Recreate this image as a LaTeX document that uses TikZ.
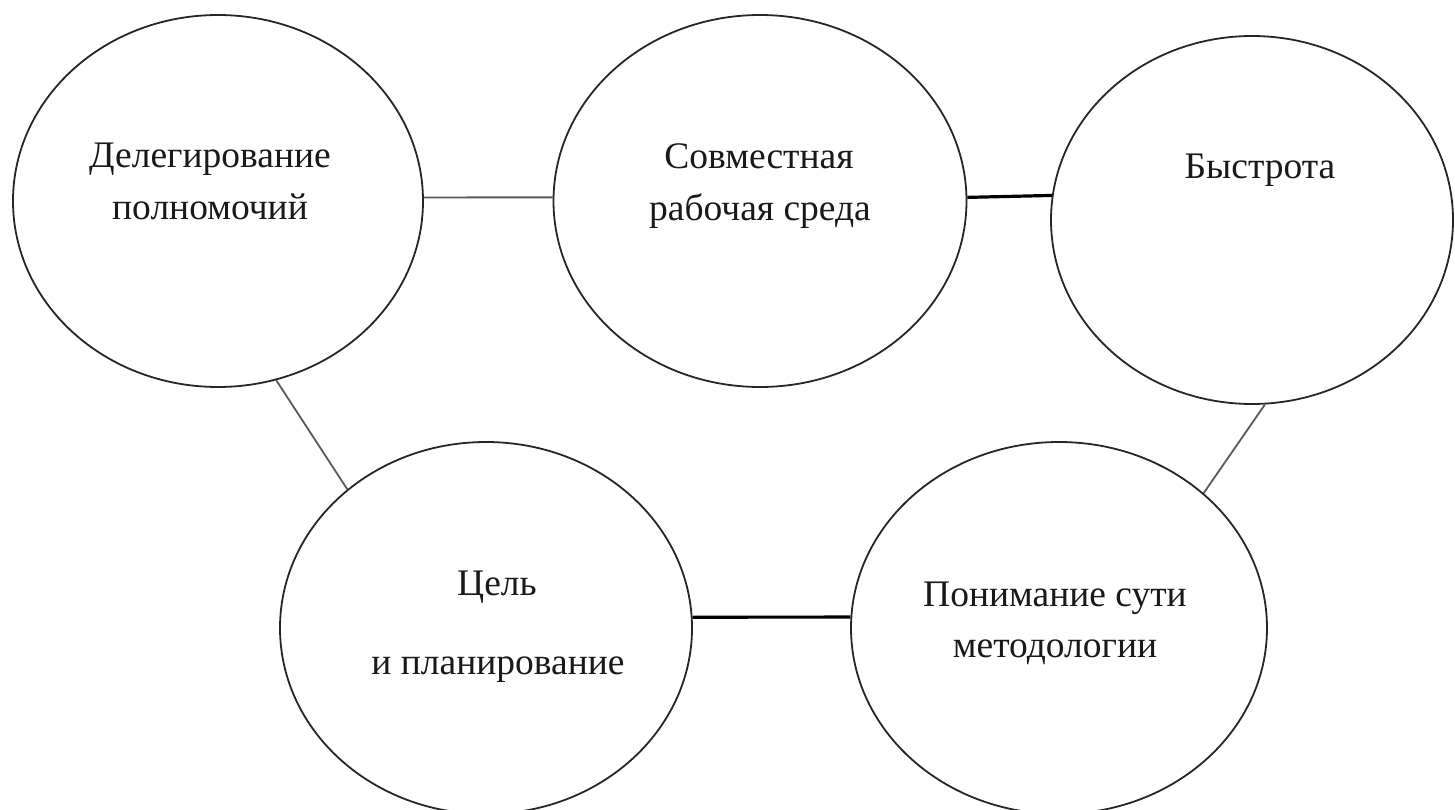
\documentclass[tikz,border=0pt]{standalone}
\usepackage{fontspec}
\setmainfont{Liberation Serif}
\usetikzlibrary{shapes.geometric}
\begin{document}
\begin{tikzpicture}[x=1pt,y=-1pt,
  oval/.style={draw=black!85,line width=1.8pt,ellipse,inner sep=0pt},
  lbl/.style={anchor=base,inner sep=0pt,font=\fontsize{37.5}{52}\selectfont,text=black!90},
  thin/.style={draw=black!65,line width=1.8pt},
  thick/.style={draw=black,line width=3.2pt}]
\useasboundingbox (0,0) rectangle (1455,810);
\clip (0,0) rectangle (1455,810);
\node[oval,minimum width=410pt,minimum height=372pt] (e1) at (218,201) {};
\node[oval,minimum width=413pt,minimum height=372pt] (e2) at (760,201) {};
\node[oval,minimum width=402pt,minimum height=368pt] (e3) at (1252,220) {};
\node[oval,minimum width=412pt,minimum height=372pt] (e4) at (486,628) {};
\node[oval,minimum width=416pt,minimum height=372pt] (e5) at (1059,628) {};
\node[lbl] (t1a) at (210,168) {Делегирование};
\node[lbl] (t1b) at (210,220) {полномочий};
\node[lbl] (t2a) at (759,169) {Совместная};
\node[lbl] (t2b) at (760,221) {рабочая среда};
\node[lbl] (t3) at (1260,179) {Быстрота};
\node[lbl] (t4a) at (497,595) {Цель};
\node[lbl] (t4b) at (498,674) {и планирование};
\node[lbl] (t5a) at (1055,606) {Понимание сути};
\node[lbl] (t5b) at (1055,657) {методологии};
\draw[thin] (e1.1) -- (e2.179);
\draw[thick] (e2.1) -- (e3.173.4);
\draw[thick] (e4.3) -- (e5.177);
\draw[thin] (e1.-72) -- (e4.135);
\draw[thin] (e3.-86) -- (e5.43);
\end{tikzpicture}
\end{document}
